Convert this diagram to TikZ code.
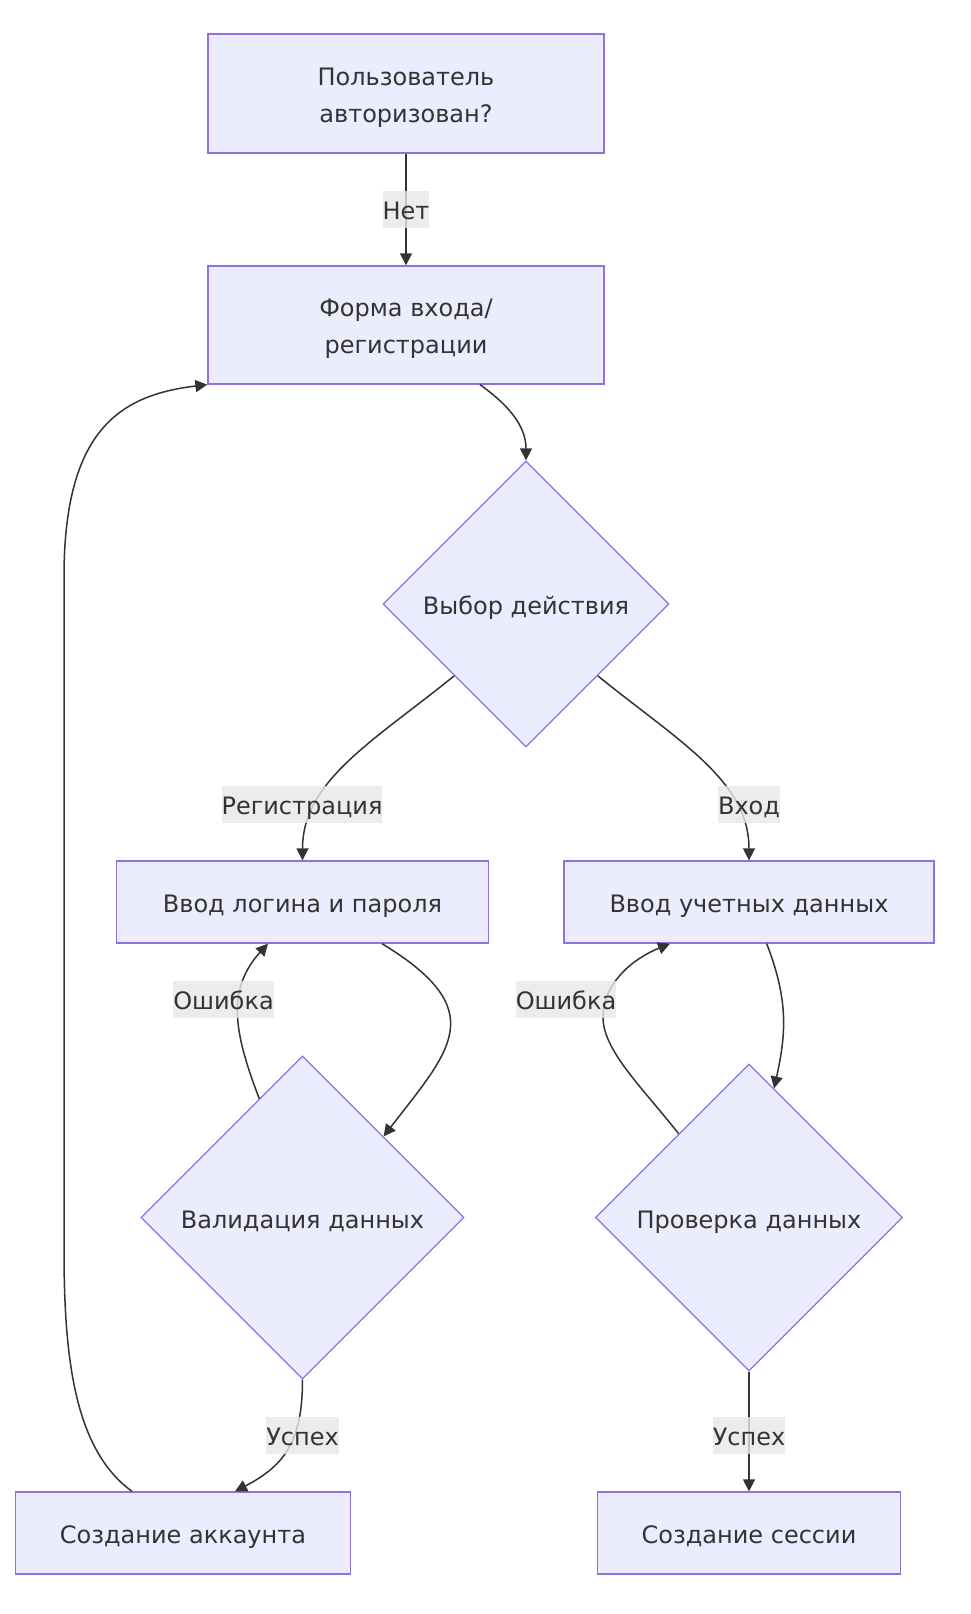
\documentclass[tikz,border=0pt]{standalone}
\usepackage{fontspec}
\setmainfont{DejaVu Sans}
\usetikzlibrary{shapes.geometric,arrows.meta}
\definecolor{nodefill}{HTML}{ECECFF}
\definecolor{nodeborder}{HTML}{9370DB}
\definecolor{edgecol}{HTML}{333333}
\definecolor{lblbg}{HTML}{E8E8E8}
\begin{document}
\begin{tikzpicture}[x=1pt,y=-1pt,
  box/.style={draw=nodeborder, fill=nodefill, line width=1.3pt, text=edgecol,
    font=\fontsize{24}{37}\selectfont, inner sep=0pt, text height=25pt, text depth=4pt},
  twoline/.style={draw=nodeborder, fill=nodefill, line width=1.3pt, text=edgecol,
    font=\fontsize{24}{37}\selectfont, align=center, inner sep=0pt, text height=64pt, text depth=7pt},
  dia/.style={diamond, aspect=1, draw=nodeborder, fill=nodefill, line width=1.3pt,
    text=edgecol, font=\fontsize{24}{37}\selectfont, inner sep=0pt, text height=25pt, text depth=4pt},
  edge/.style={draw=edgecol, line width=1.5pt, -{Triangle[length=12pt,width=12pt]}},
  lbl/.style={fill=lblbg, fill opacity=0.8, text opacity=1, text=edgecol,
    font=\fontsize{24}{37}\selectfont, inner xsep=0pt, inner ysep=0pt, minimum height=37pt,
    text height=24pt, text depth=4pt}
]
\useasboundingbox (0,0) rectangle (970,1614);
\fill[white] (0,0) rectangle (970,1614);

\node[twoline, minimum width=396pt, minimum height=119pt] (auth) at (406,93.5) {Пользователь\\авторизован?};
\node[twoline, minimum width=396pt, minimum height=118pt] (form) at (406,325) {Форма входа/\\регистрации};
\node[dia, minimum width=286pt, minimum height=286pt] (choice) at (526,604) {Выбор действия};
\node[box, minimum width=372pt, minimum height=82pt] (login) at (302.5,902) {Ввод логина и пароля};
\node[box, minimum width=370pt, minimum height=82pt] (cred) at (749,902) {Ввод учетных данных};
\node[dia, minimum width=323pt, minimum height=323pt] (valid) at (302.5,1217.5) {Валидация данных};
\node[dia, minimum width=307pt, minimum height=307pt] (check) at (749,1217.5) {Проверка данных};
\node[box, minimum width=335pt, minimum height=82pt] (acct) at (183,1533) {Создание аккаунта};
\node[box, minimum width=303pt, minimum height=82pt] (sess) at (749,1533) {Создание сессии};

% edges
\draw[edge] (auth) -- node[lbl] (lno) {Нет} (form);
\draw[edge] ([xshift=74pt]form.south) .. controls +(35,25) and +(0,-30) .. (choice.north);
\draw[edge] (choice.south west) .. controls +(-80,65) and +(0,-80) .. (login.north);
\node[lbl] (lreg) at (302,804) {Регистрация};
\draw[edge] (choice.south east) .. controls +(80,65) and +(0,-80) .. (cred.north);
\node[lbl] (lin) at (749,804) {Вход};
\draw[edge] ([xshift=79.5pt]login.south) .. controls +(110,67) and +(67,-87) .. (valid.north east);
\draw[edge] (valid.110) .. controls +(-24,-63) and +(-43,47) .. ([xshift=-34.5pt]login.south);
\node[lbl] (lerr1) at (223.5,999.5) {Ошибка};
\draw[edge] ([xshift=17.7pt]cred.south) .. controls +(22,57) and +(12,-55) .. (check.79);
\draw[edge] (check.130) .. controls (640,1085) and (603,1050) .. (603,1017)
  .. controls (603,985) and (630,960) .. ([xshift=-79pt]cred.south);
\node[lbl] (lerr2) at (566,999.5) {Ошибка};
\draw[edge] (valid.south) .. controls +(0,61) and +(50,-26) .. ([xshift=52pt]acct.north);
\node[lbl] (lok1) at (302.5,1435) {Успех};
\draw[edge] (check.south) -- (sess.north);
\node[lbl] (lok2) at (749,1435) {Успех};
\draw[edge] ([xshift=-51pt]acct.north) .. controls (75,1450) and (64,1360) .. (64,1250)
  -- (64,577) .. controls (64,430) and (120,395) .. (form.south west);
\end{tikzpicture}
\end{document}
